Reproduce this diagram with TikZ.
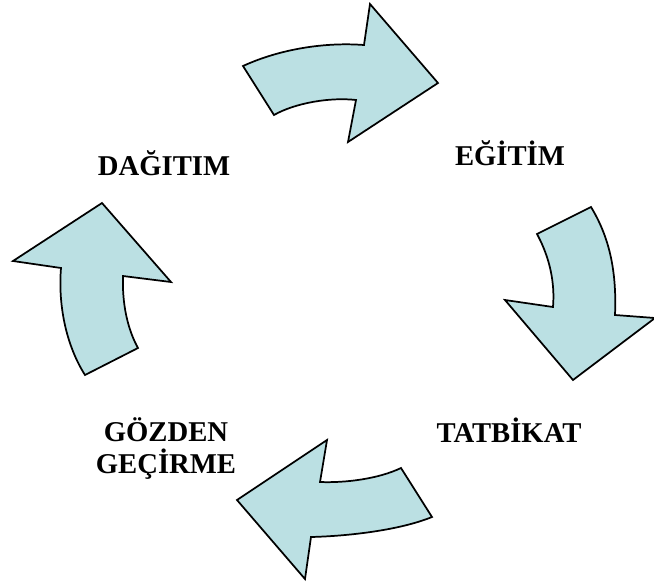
\documentclass[tikz,border=0pt]{standalone}
\usepackage{fontspec}
\setmainfont{Liberation Serif}
\definecolor{arrowfill}{RGB}{187,224,227}
\begin{document}
\begin{tikzpicture}[x=0.75pt,y=-0.75pt,
  cyclearrow/.style={draw=black,line width=1.3pt,line join=miter,fill=arrowfill},
  steplabel/.style={font=\fontsize{21.5}{24}\selectfont\bfseries,inner sep=0pt,anchor=base,align=center}]
\useasboundingbox (0,0) rectangle (654,583);
% top arrow: towards the right
\path[cyclearrow] (243,66) .. controls (280,49) and (325,42) .. (364,45)
  -- (370,4) -- (438,83) -- (348,142) -- (356,100)
  .. controls (330,97) and (295,103) .. (274,115) -- cycle;
% right arrow: downwards
\path[cyclearrow] (537,234) -- (591,207)
  .. controls (608,235) and (617,268) .. (615,315)
  -- (655,318) -- (573,380) -- (505,300) -- (553,307)
  .. controls (555,283) and (550,258) .. (537,234) -- cycle;
% bottom arrow: towards the left
\path[cyclearrow] (401,468) -- (432,517)
  .. controls (400,530) and (350,536) .. (311,537)
  -- (305,579) -- (237,500) -- (327,440) -- (320,482)
  .. controls (345,483) and (378,479) .. (401,468) -- cycle;
% left arrow: upwards
\path[cyclearrow] (85,375) -- (138,348)
  .. controls (128,330) and (122,305) .. (123,276)
  -- (171,282) -- (102,203) -- (13,261) -- (61,268)
  .. controls (58,305) and (66,345) .. (85,375) -- cycle;
% labels (a two-line node sits on the baseline of its last line)
\node[steplabel] (egitim) at (510,165) {EĞİTİM};
\node[steplabel] (tatbikat) at (509,442) {TATBİKAT};
\node[steplabel] (gozden) at (166,473) {GÖZDEN\\GEÇİRME};
\node[steplabel] (dagitim) at (164,175) {DAĞITIM};
\end{tikzpicture}
\end{document}
